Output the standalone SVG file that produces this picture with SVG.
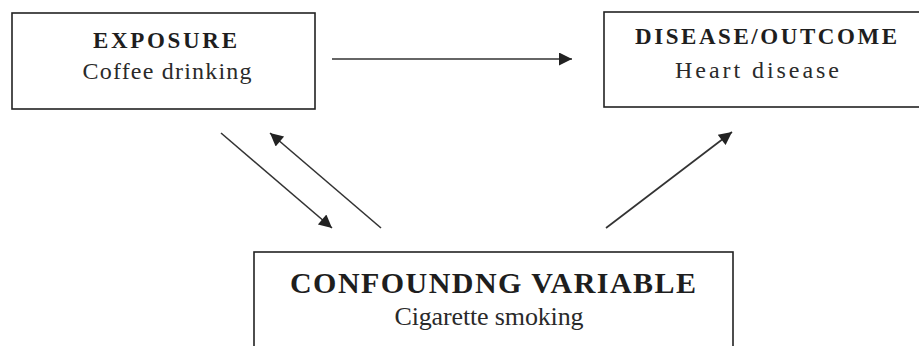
<svg xmlns="http://www.w3.org/2000/svg" width="919" height="346" viewBox="0 0 919 346">
  <style>
    .box { fill: #ffffff; stroke: #222222; stroke-width: 1.6; }
    .head { font-family: "Liberation Serif", "Times New Roman", serif; font-weight: bold; fill: #1e1e1e; text-anchor: middle; }
    .sub { font-family: "Liberation Serif", "Times New Roman", serif; fill: #2a2a2a; text-anchor: middle; }
    .edge { stroke: #333333; stroke-width: 1.6; fill: none; marker-end: url(#arrow); }
  </style>
  <defs>
    <marker id="arrow" viewBox="0 0 10 10" refX="10" refY="5" markerWidth="15" markerHeight="13" markerUnits="userSpaceOnUse" orient="auto">
      <path d="M0,0 L10,5 L0,10 Z" fill="#222222"/>
    </marker>
  </defs>
  <rect width="919" height="346" fill="#ffffff"/>

  <g id="exposure">
    <rect class="box" x="12" y="13" width="303" height="96"/>
    <text class="head" x="165" y="48" font-size="23" textLength="144" lengthAdjust="spacing">EXPOSURE</text>
    <text class="sub" x="167" y="79" font-size="24" textLength="169" lengthAdjust="spacing">Coffee drinking</text>
  </g>

  <g id="outcome">
    <rect class="box" x="604" y="12" width="330" height="95"/>
    <text class="head" x="766" y="44" font-size="23" textLength="262" lengthAdjust="spacing">DISEASE/OUTCOME</text>
    <text class="sub" x="757" y="78" font-size="24" textLength="164" lengthAdjust="spacing">Heart disease</text>
  </g>

  <g id="confounder">
    <rect class="box" x="254" y="252" width="479" height="110"/>
    <text class="head" x="493" y="293" font-size="30" textLength="406" lengthAdjust="spacing">CONFOUNDNG VARIABLE</text>
    <text class="sub" x="489" y="325" font-size="26" textLength="189" lengthAdjust="spacing">Cigarette smoking</text>
  </g>

  <g id="connectors">
    <line class="edge" x1="332" y1="59" x2="572" y2="59"/>
    <line class="edge" x1="221" y1="133" x2="332" y2="228"/>
    <line class="edge" x1="381" y1="228" x2="270" y2="133"/>
    <line class="edge" x1="606" y1="228" x2="732" y2="132"/>
  </g>
</svg>
